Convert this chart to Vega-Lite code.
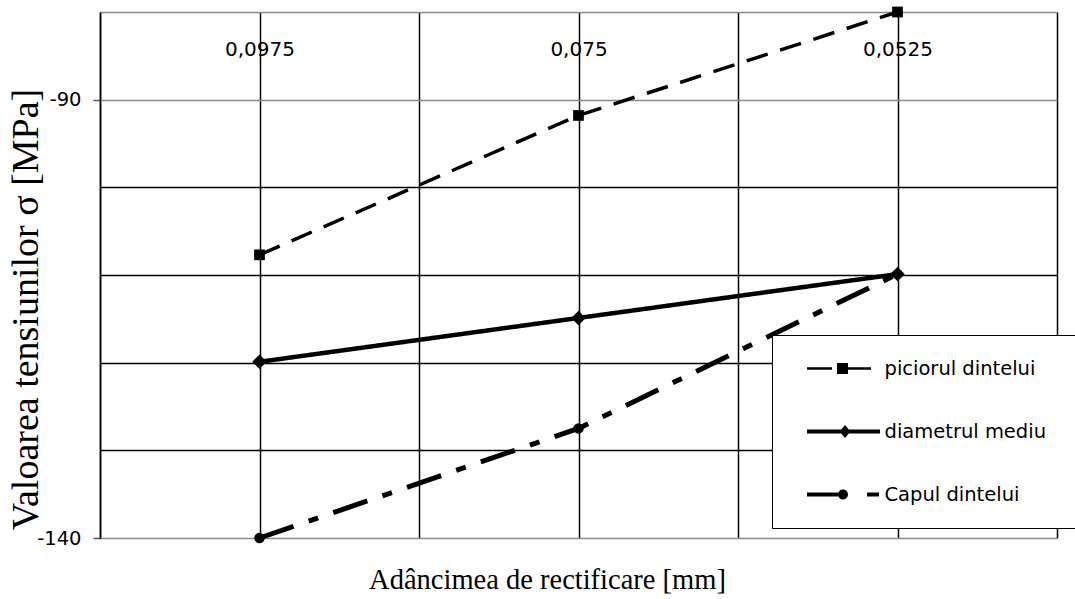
{
  "$schema": "https://vega.github.io/schema/vega-lite/v6.json",
  "width": 957,
  "height": 526,
  "autosize": {"type": "none"},
  "padding": {"left": 100, "top": 12, "right": 18, "bottom": 61},
  "background": "white",
  "config": {"view": {"stroke": null}},
  "data": {
    "values": [
      {"series": "piciorul dintelui", "depth": 0.0975, "stress": -107.7},
      {"series": "piciorul dintelui", "depth": 0.075, "stress": -91.8},
      {"series": "piciorul dintelui", "depth": 0.0525, "stress": -80.0},
      {"series": "diametrul mediu", "depth": 0.0975, "stress": -119.9},
      {"series": "diametrul mediu", "depth": 0.075, "stress": -114.9},
      {"series": "diametrul mediu", "depth": 0.0525, "stress": -109.9},
      {"series": "Capul dintelui", "depth": 0.0975, "stress": -140.0},
      {"series": "Capul dintelui", "depth": 0.075, "stress": -127.5},
      {"series": "Capul dintelui", "depth": 0.0525, "stress": -109.9}
    ]
  },
  "encoding": {
    "x": {
      "field": "depth",
      "type": "quantitative",
      "scale": {"domain": [0.04125, 0.10875], "reverse": true, "nice": false, "zero": false},
      "axis": {
        "orient": "top",
        "values": [0.04125, 0.0525, 0.06375, 0.075, 0.08625, 0.0975, 0.10875],
        "domain": false,
        "ticks": false,
        "tickSize": 0,
        "grid": true,
        "gridColor": "black",
        "gridWidth": 1.5,
        "gridOpacity": 1,
        "labelExpr": "(abs(datum.value-0.0975)<1e-6 || abs(datum.value-0.075)<1e-6 || abs(datum.value-0.0525)<1e-6) ? replace(format(datum.value, '.4~f'), '.', ',') : ''",
        "labelFont": "DejaVu Sans",
        "labelFontSize": 20,
        "labelColor": "black",
        "labelPadding": -43,
        "labelBaseline": "alphabetic",
        "labelFlush": false,
        "labelOverlap": false,
        "title": "Adâncimea de rectificare [mm]",
        "titleFont": "Liberation Serif",
        "titleFontSize": 28.5,
        "titleFontWeight": "normal",
        "titleColor": "black",
        "titleX": 447,
        "titleY": 576,
        "titleAlign": "center",
        "titleBaseline": "alphabetic"
      }
    },
    "y": {
      "field": "stress",
      "type": "quantitative",
      "scale": {"domain": [-140, -80], "nice": false, "zero": false},
      "axis": {
        "orient": "left",
        "values": [-140, -130, -120, -110, -100, -90, -80],
        "grid": true,
        "gridColor": {"condition": {"test": "datum.value == -90 || datum.value == -140 || datum.value == -80", "value": "#8a8a8a"}, "value": "black"},
        "gridWidth": 1.5,
        "gridOpacity": 1,
        "domain": true,
        "domainColor": "black",
        "domainWidth": 1.5,
        "ticks": true,
        "tickSize": 7,
        "tickWidth": 1.5,
        "tickColor": {"condition": {"test": "datum.value == -90 || datum.value == -140", "value": "#555555"}, "value": "transparent"},
        "labelExpr": "(datum.value == -90 || datum.value == -140) ? toString(datum.value) : ''",
        "labelFont": "DejaVu Sans",
        "labelFontSize": 19.5,
        "labelColor": "black",
        "labelPadding": 12,
        "labelOverlap": false,
        "labelFlush": false,
        "title": "Valoarea tensiunilor σ [MPa]",
        "titleFont": "Liberation Serif",
        "titleFontSize": 38,
        "titleFontWeight": "normal",
        "titleColor": "black",
        "titleX": -63,
        "titleY": 297,
        "titleAlign": "center",
        "titleBaseline": "alphabetic"
      }
    }
  },
  "layer": [
    {
      "mark": {"type": "line", "color": "black", "strokeCap": "butt", "strokeJoin": "miter"},
      "encoding": {
        "strokeDash": {
          "field": "series",
          "type": "nominal",
          "scale": {"domain": ["piciorul dintelui", "diametrul mediu", "Capul dintelui"], "range": [[22, 13], [1, 0], [36, 16, 10, 16]]},
          "legend": null
        },
        "strokeWidth": {
          "field": "series",
          "type": "nominal",
          "scale": {"type": "ordinal", "domain": ["piciorul dintelui", "diametrul mediu", "Capul dintelui"], "range": [3.5, 4.5, 5]},
          "legend": null
        }
      }
    },
    {
      "mark": {"type": "point", "filled": true, "color": "black", "opacity": 1},
      "encoding": {
        "shape": {
          "field": "series",
          "type": "nominal",
          "scale": {"domain": ["piciorul dintelui", "diametrul mediu", "Capul dintelui"], "range": ["square", "diamond", "circle"]},
          "legend": null
        },
        "size": {
          "field": "series",
          "type": "nominal",
          "scale": {"type": "ordinal", "domain": ["piciorul dintelui", "diametrul mediu", "Capul dintelui"], "range": [115, 210, 110]},
          "legend": null
        }
      }
    },
    {
      "mark": {"type": "point", "filled": true, "color": "black", "opacity": 0, "size": 2500},
      "encoding": {
        "shape": {
          "field": "series",
          "type": "nominal",
          "scale": {
            "domain": ["piciorul dintelui", "diametrul mediu", "Capul dintelui"],
            "range": [
              "M-1,-1M-1,1M11.5,0M0.06,-0.05H1.06V0.05H0.06Z M1.26,-0.22H1.7V0.22H1.26Z M1.7,-0.05H2.62V0.05H1.7Z",
              "M-1,-1M-1,1M11.5,0M0.06,-0.08H2.98V0.08H0.06Z M1.58,-0.26L1.8,0L1.58,0.26L1.36,0Z",
              "M-1,-1M-1,1M11.5,0M0.06,-0.08H1.3V0.08H0.06Z M1.7,0A0.2,0.2 0 1,1 1.3,0A0.2,0.2 0 1,1 1.7,0Z M2.46,-0.08H2.94V0.08H2.46Z"
            ]
          },
          "legend": {
            "orient": "none",
            "legendX": 672,
            "legendY": 323,
            "title": null,
            "fillColor": "white",
            "strokeColor": "black",
            "padding": 8.5,
            "symbolSize": 2500,
            "symbolOpacity": 1,
            "symbolFillColor": "black",
            "symbolStrokeWidth": 0,
            "labelFont": "DejaVu Sans",
            "labelFontSize": 19.5,
            "labelColor": "black",
            "labelLimit": 400,
            "labelOffset": 54,
            "rowPadding": 13
          }
        }
      }
    }
  ],
  "resolve": {"scale": {"shape": "independent", "size": "independent"}, "legend": {"shape": "independent"}}
}
